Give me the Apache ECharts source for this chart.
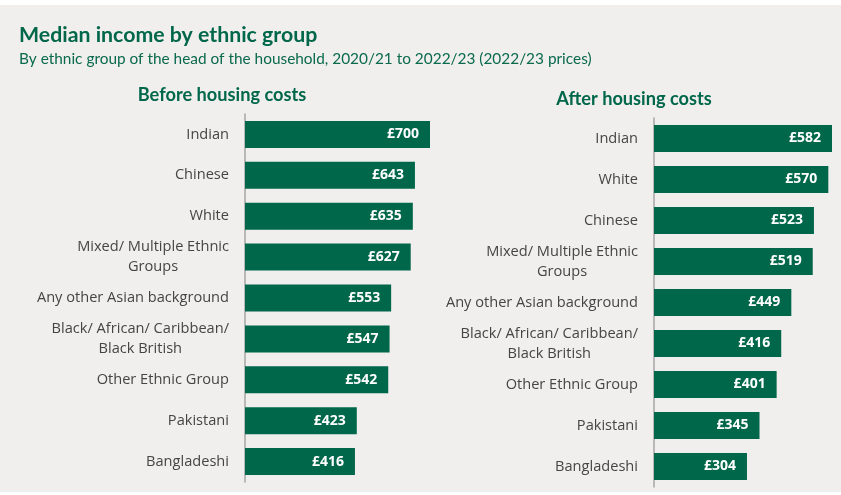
<!DOCTYPE html>
<html>
<head>
<meta charset="utf-8">
<script src="https://cdn.jsdelivr.net/npm/echarts@6/dist/echarts.min.js"></script>
<style>
html,body{margin:0;padding:0;background:#ffffff;}
#chart{width:841px;height:495px;}
</style>
</head>
<body>
<div id="chart"></div>
<script>
const beforeCategories = ['Indian', 'Chinese', 'White', 'Mixed/ Multiple Ethnic\nGroups', 'Any other Asian background', 'Black/ African/ Caribbean/\nBlack British', 'Other Ethnic Group', 'Pakistani', 'Bangladeshi'];
const beforeValues = [700, 643, 635, 627, 553, 547, 542, 423, 416];
const afterCategories = ['Indian', 'White', 'Chinese', 'Mixed/ Multiple Ethnic\nGroups', 'Any other Asian background', 'Black/ African/ Caribbean/\nBlack British', 'Other Ethnic Group', 'Pakistani', 'Bangladeshi'];
const afterValues = [582, 570, 523, 519, 449, 416, 401, 345, 304];

const GREEN = '#00674a';
const labelFont = '"Open Sans", "Noto Sans", sans-serif';
const titleFont = 'Lato, "Open Sans", sans-serif';
const LABEL_SIZE = 14.6;

function catLabel() {
  return {
    margin: 16,
    color: '#454545',
    fontSize: LABEL_SIZE,
    fontFamily: labelFont,
    lineHeight: 20,
    formatter: function (v) {
      return v.split('\n').map(function (l) { return '{c|' + l + '}'; }).join('\n');
    },
    rich: {
      c: { align: 'center', color: '#454545', fontSize: LABEL_SIZE, fontFamily: labelFont, lineHeight: 20 }
    }
  };
}

function barLabel() {
  return {
    show: true,
    position: 'insideRight',
    distance: 11,
    color: '#ffffff',
    fontSize: 14,
    fontWeight: 'bold',
    fontFamily: labelFont,
    formatter: function (p) { return '£' + p.value; }
  };
}

const chart = echarts.init(document.getElementById('chart'), null, { renderer: 'canvas' });
chart.setOption({
  backgroundColor: '#f0efed',
  animation: false,
  graphic: [
    { type: 'rect', shape: { x: 0, y: 0, width: 841, height: 5 }, style: { fill: '#ffffff' }, silent: true },
    { type: 'rect', shape: { x: 0, y: 492, width: 841, height: 3 }, style: { fill: '#ffffff' }, silent: true }
  ],
  title: [
    { text: 'Median income by ethnic group', left: 19, top: 25, padding: 0,
      textStyle: { fontFamily: titleFont, fontWeight: 'bold', fontSize: 21.3, color: GREEN } },
    { text: 'By ethnic group of the head of the household, 2020/21 to 2022/23 (2022/23 prices)', left: 19, top: 52, padding: 0,
      textStyle: { fontFamily: titleFont, fontWeight: 'normal', fontSize: 15.4, color: '#0b6a4e' } },
    { text: 'Before housing costs', left: 222, top: 86, padding: 0, textAlign: 'center',
      textStyle: { fontFamily: titleFont, fontWeight: 'bold', fontSize: 18.2, color: GREEN } },
    { text: 'After housing costs', left: 634, top: 90, padding: 0, textAlign: 'center',
      textStyle: { fontFamily: titleFont, fontWeight: 'bold', fontSize: 18.2, color: GREEN } }
  ],
  grid: [
    { left: 245, top: 114, width: 185, height: 368, containLabel: false },
    { left: 654, top: 118, width: 178, height: 369, containLabel: false }
  ],
  xAxis: [
    { type: 'value', gridIndex: 0, min: 0, max: 700, show: false },
    { type: 'value', gridIndex: 1, min: 0, max: 582, show: false }
  ],
  yAxis: [
    { type: 'category', gridIndex: 0, data: beforeCategories, inverse: true,
      axisLine: { show: true, lineStyle: { color: '#a6a6a6', width: 1.5 } },
      axisTick: { show: false }, axisLabel: catLabel() },
    { type: 'category', gridIndex: 1, data: afterCategories, inverse: true,
      axisLine: { show: true, lineStyle: { color: '#a6a6a6', width: 1.5 } },
      axisTick: { show: false }, axisLabel: catLabel() }
  ],
  series: [
    { type: 'bar', xAxisIndex: 0, yAxisIndex: 0, data: beforeValues, barWidth: 27,
      itemStyle: { color: GREEN }, label: barLabel() },
    { type: 'bar', xAxisIndex: 1, yAxisIndex: 1, data: afterValues, barWidth: 27,
      itemStyle: { color: GREEN }, label: barLabel() }
  ]
});
</script>
</body>
</html>
